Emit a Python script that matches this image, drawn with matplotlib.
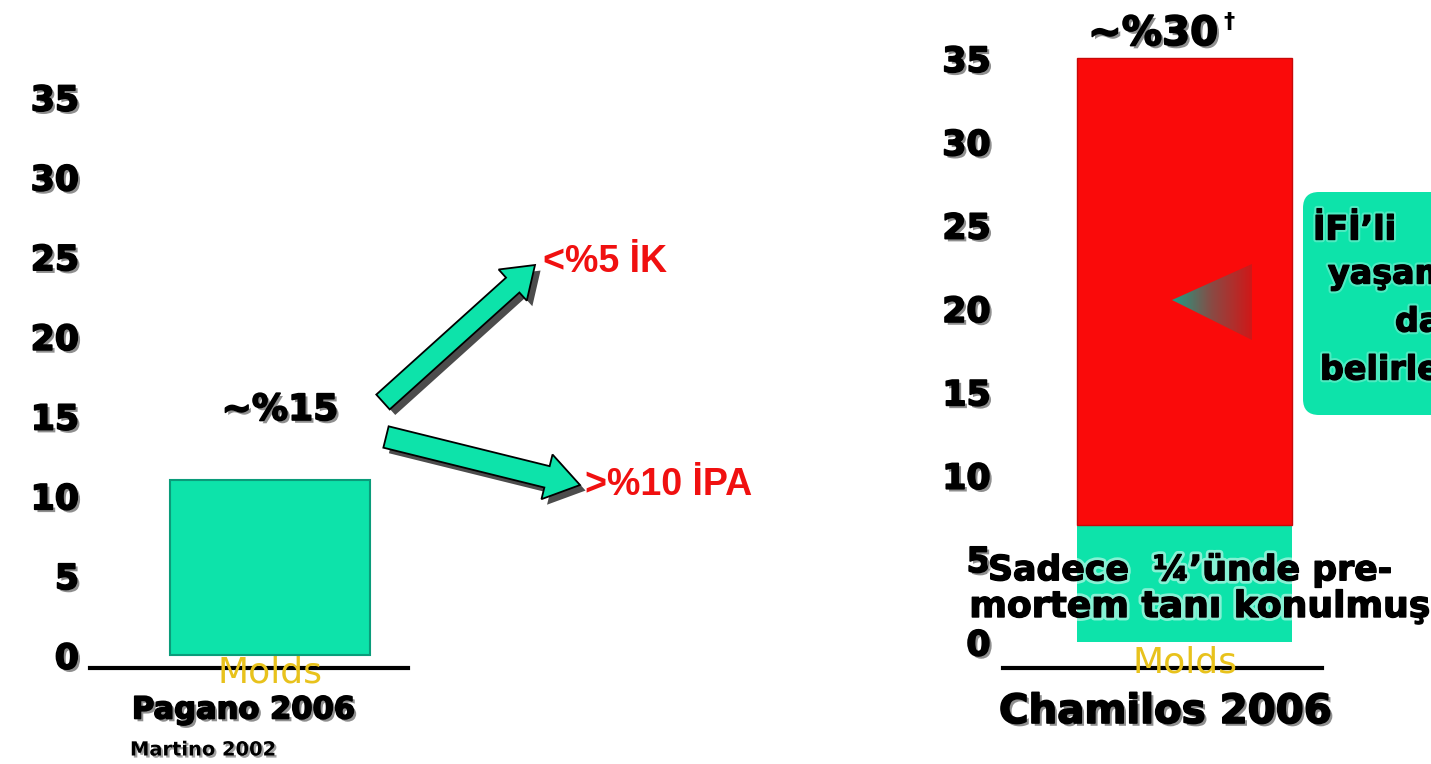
import numpy as np
import matplotlib
matplotlib.use("Agg")
from matplotlib import pyplot as plt
from matplotlib import patheffects as pe
from matplotlib.patches import FancyArrow, FancyBboxPatch, Polygon

# data
categories = ["Molds"]
pagano_values = [11]
chamilos_diagnosed = [7]
chamilos_missed = [28]
y_ticks = [0, 5, 10, 15, 20, 25, 30, 35]
y_ticklabels = ["0", "5", "10", "15", "20", "25", "30", "35"]

green = "#0de3aa"
red = "#fa0a0a"
gold = "#e8c21c"

W, H = 1431, 764
fig = plt.figure(figsize=(W / 100, H / 100), dpi=100)
fig.patch.set_facecolor("white")

# heavy black text with a soft drop shadow (Arial Black look)
shadow = [pe.SimplePatchShadow(offset=(2, -2), shadow_rgbFace="#444444", alpha=0.6),
          pe.withStroke(linewidth=1.2, foreground="black")]
thin_shadow = [pe.SimplePatchShadow(offset=(1.5, -1.5), shadow_rgbFace="#444444", alpha=0.5),
               pe.Normal()]


def frac(x0, x1):
    return x0 / W, (x1 - x0) / W


def setup(ax, ylim, xlim, pad, molds_pad):
    ax.set_ylim(*ylim)
    ax.set_xlim(*xlim)
    for s in ["left", "right", "top"]:
        ax.spines[s].set_visible(False)
    ax.spines["bottom"].set_linewidth(3)
    ax.spines["bottom"].set_zorder(0.5)
    ax.set_yticks(y_ticks)
    ax.set_yticklabels(y_ticklabels, fontsize=25, fontweight="bold", family="DejaVu Sans")
    ax.tick_params(axis="y", length=0, pad=pad)
    ax.tick_params(axis="x", length=0, pad=molds_pad, labelsize=26, labelcolor=gold)
    for t in ax.get_yticklabels():
        t.set_path_effects(shadow)
    ax.patch.set_alpha(0)


# left panel - Pagano 2006
l, w = frac(90, 408)
ax1 = fig.add_axes([l, 1 - 668 / H, w, 668 / H])
ax1.bar(categories, pagano_values, width=0.6, color=green, edgecolor="#0a9c7a",
        linewidth=1.5, zorder=2)
setup(ax1, (-0.8, 41.1), (-0.54, 0.415), 8, -9)

# right panel - Chamilos 2006
l, w = frac(1003, 1322)
ax2 = fig.add_axes([l, 1 - 668 / H, w, 668 / H])
ax2.bar(categories, chamilos_diagnosed, width=0.6, color=green, zorder=2)
ax2.bar(categories, chamilos_missed, bottom=chamilos_diagnosed, width=0.6,
        color=red, edgecolor="#c80808", linewidth=1, zorder=2)
setup(ax2, (-1.56, 38.5), (-0.508, 0.383), 9, -16)

# overlay in pixel coordinates for annotations
ov = fig.add_axes([0, 0, 1, 1], zorder=5)
ov.set_xlim(0, W)
ov.set_ylim(H, 0)
ov.axis("off")
ov.patch.set_alpha(0)

arrow_shadow = [pe.SimplePatchShadow(offset=(4, -4), shadow_rgbFace="black", alpha=0.7), pe.Normal()]
a1 = FancyArrow(383, 402, 152, -137, width=20, head_width=42, head_length=30,
                length_includes_head=True, fc=green, ec="black", lw=1.3)
a2 = FancyArrow(386, 437, 194, 48, width=22, head_width=46, head_length=34,
                length_includes_head=True, fc=green, ec="black", lw=1.3)
for a in (a1, a2):
    a.set_path_effects(arrow_shadow)
    ov.add_patch(a)

ov.text(280, 410, "~%15", fontsize=26, fontweight="bold", ha="center", va="center",
        path_effects=shadow)
ov.text(543, 262, "<%5 İK", fontsize=27, fontweight="bold", color="#f01010",
        family="Liberation Sans", ha="left", va="center")
ov.text(585, 485, ">%10 İPA", fontsize=27, fontweight="bold", color="#f01010",
        family="Liberation Sans", ha="left", va="center")
ov.text(243, 710, "Pagano 2006", fontsize=22, fontweight="bold", ha="center", va="center",
        path_effects=shadow)
ov.text(130, 750, "Martino 2002", fontsize=14, fontweight="bold", ha="left", va="center",
        path_effects=thin_shadow)

ov.text(1088, 34, "~%30", fontsize=29, fontweight="bold", ha="left", va="center",
        path_effects=shadow)
ov.text(1223, 22, "†", fontsize=16, fontweight="bold", ha="left", va="center")
ov.text(1165, 712, "Chamilos 2006", fontsize=29, fontweight="bold", ha="center", va="center",
        path_effects=shadow)

glow = [pe.withStroke(linewidth=5, foreground="white", alpha=0.5),
        pe.withStroke(linewidth=1.0, foreground="black")]
ov.text(1190, 570, "Sadece  ¼’ünde pre-", fontsize=25, fontweight="bold", ha="center",
        va="center", path_effects=glow)
ov.text(1200, 607, "mortem tanı konulmuş", fontsize=26, fontweight="bold", ha="center",
        va="center", path_effects=glow)

# green call-out box (cut by the slide edge, as in the original)
box = FancyBboxPatch((1303, 192), 220, 223, boxstyle="round,pad=0,rounding_size=16",
                     fc=green, ec="none")
ov.add_patch(box)
box_lines = [("İFİ’li", 1313, 230), ("yaşam", 1328, 274),
             ("da", 1395, 322), ("belirle", 1320, 370)]
for txt, x, y in box_lines:
    ov.text(x, y, txt, fontsize=24, fontweight="bold", ha="left", va="center",
            path_effects=[pe.withStroke(linewidth=4, foreground="#8ff3d8", alpha=0.5),
                          pe.withStroke(linewidth=1.0, foreground="black")])

# gradient pointer inside the red bar
tri = Polygon([(1172, 300), (1252, 264), (1252, 340)], closed=True, fc="none", ec="none")
ov.add_patch(tri)
grad = np.linspace(0, 1, 256).reshape(1, -1)
cmap = matplotlib.colors.LinearSegmentedColormap.from_list("g2r", ["#1aa088", "#8a4a44", "#d01818"])
im = ov.imshow(grad, cmap=cmap, extent=[1172, 1252, 340, 264], aspect="auto", zorder=3)
im.set_clip_path(tri)
ov.set_xlim(0, W)
ov.set_ylim(H, 0)

plt.savefig("out.png", dpi=100)
